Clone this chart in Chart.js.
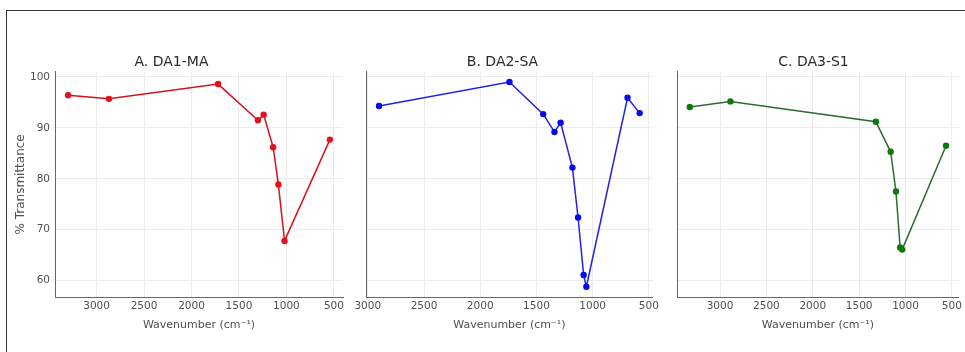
<!DOCTYPE html>
<html>
<head>
<meta charset="utf-8">
<script src="https://cdn.jsdelivr.net/npm/chart.js@4.4.1/dist/chart.umd.min.js"></script>
<style>
  html, body { margin: 0; padding: 0; background: #fff; }
  #wrap { position: relative; width: 965px; height: 352px; overflow: hidden; background: #fff; }
  #frameTop { position: absolute; left: 6px; top: 10px; width: 959px; height: 1px; background: #333; }
  #frameLeft { position: absolute; left: 6px; top: 10px; width: 1px; height: 342px; background: #333; }
  canvas { position: absolute; top: 0; }
</style>
</head>
<body>
<div id="wrap">
  <div id="frameTop"></div>
  <div id="frameLeft"></div>
  <canvas id="cA" width="350" height="352" style="left:0px"></canvas>
  <canvas id="cB" width="312" height="352" style="left:350px"></canvas>
  <canvas id="cC" width="303" height="352" style="left:662px"></canvas>
</div>
<script>
// ---- data ----
const titles = ["A. DA1-MA", "B. DA2-SA", "C. DA3-S1"];

const waveA = [3300, 2870, 1720, 1300, 1240, 1140, 1085, 1020, 542];
const transA = [96.4, 95.7, 98.6, 91.5, 92.6, 86.2, 78.9, 67.8, 87.7];

const waveB = [2900, 1740, 1440, 1340, 1285, 1180, 1130, 1080, 1056, 690, 582];
const transB = [94.3, 99.0, 92.7, 89.2, 91.0, 82.2, 72.4, 61.1, 58.8, 95.9, 92.9];

const waveC = [3326, 2888, 1320, 1160, 1103, 1058, 1036, 563];
const transC = [94.1, 95.2, 91.2, 85.3, 77.5, 66.5, 66.1, 86.5];

const xTickValues = [3000, 2500, 2000, 1500, 1000, 500];
const yTickValues = [60, 70, 80, 90, 100];

const xTitle = "Wavenumber (cm\u207B\u00B9)";
const yTitle = "% Transmittance";

// ---- helpers ----
const FONT = "'DejaVu Sans', sans-serif";
function padRange(arr) {
  const lo = Math.min(...arr), hi = Math.max(...arr);
  const m = (hi - lo) * 0.05;
  return [lo - m, hi + m];
}
const allY = transA.concat(transB, transC);
const [yMin, yMax] = padRange(allY);

function makePanel(id, title, xs, ys, lineColor, pointColor, yWidth, showYLabels, padRight) {
  const [xMin, xMax] = padRange(xs);
  const pts = xs.map((x, i) => ({ x: x, y: ys[i] }));
  new Chart(document.getElementById(id), {
    type: 'line',
    data: {
      datasets: [{
        data: pts,
        borderColor: lineColor,
        backgroundColor: pointColor,
        pointBackgroundColor: pointColor,
        pointBorderColor: pointColor,
        pointRadius: 3.2,
        pointBorderWidth: 0,
        borderWidth: 1.5,
        tension: 0,
        fill: false
      }]
    },
    options: {
      responsive: false,
      animation: false,
      layout: { padding: { left: 0, right: padRight, top: 0, bottom: 20 } },
      plugins: {
        legend: { display: false },
        tooltip: { enabled: false },
        title: {
          display: true,
          text: title,
          color: '#2a2a2a',
          font: { family: FONT, size: 14, weight: 'normal' },
          padding: { top: 54, bottom: 1 }
        }
      },
      scales: {
        x: {
          type: 'linear',
          reverse: true,
          min: xMin,
          max: xMax,
          afterBuildTicks: (s) => { s.ticks = xTickValues.map(v => ({ value: v })); },
          afterFit: (s) => { s.height = 35; },
          grid: { color: '#ebebeb', lineWidth: 1, drawTicks: false },
          border: { display: true, color: '#666', width: 1 },
          ticks: {
            color: '#505050',
            padding: 3,
            maxRotation: 0,
            autoSkip: false,
            font: { family: FONT, size: 10.5 },
            callback: (v) => String(v)
          },
          title: {
            display: true,
            text: xTitle,
            color: '#505050',
            font: { family: FONT, size: 11 },
            padding: { top: 0, bottom: 0 }
          }
        },
        y: {
          type: 'linear',
          min: yMin,
          max: yMax,
          afterBuildTicks: (s) => { s.ticks = yTickValues.map(v => ({ value: v })); },
          afterFit: (s) => { s.width = yWidth; },
          grid: { color: '#ebebeb', lineWidth: 1, drawTicks: false },
          border: { display: true, color: '#666', width: 1 },
          ticks: {
            display: showYLabels,
            color: '#505050',
            padding: 5,
            font: { family: FONT, size: 10.5 },
            callback: (v) => String(v)
          },
          title: {
            display: showYLabels,
            text: yTitle,
            color: '#505050',
            font: { family: FONT, size: 12 },
            padding: { top: 14, bottom: 0 }
          }
        }
      }
    }
  });
}

makePanel('cA', titles[0], waveA, transA, '#d8101e', '#e5101c', 55, true, 7);
makePanel('cB', titles[1], waveB, transB, '#2222dd', '#0a0ae6', 16, false, 7);
makePanel('cC', titles[2], waveC, transC, '#2f6a2f', '#0b7a0b', 15, false, 0);
</script>
</body>
</html>
